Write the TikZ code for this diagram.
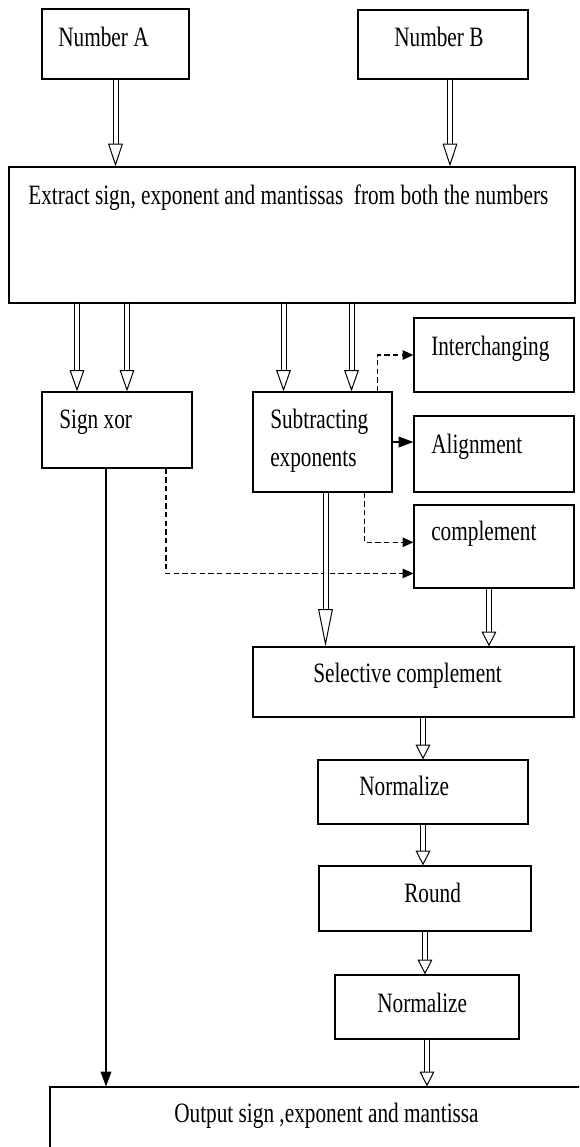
\documentclass[tikz,border=0pt]{standalone}
\usepackage{fontspec}
\setmainfont{Liberation Serif}[FakeStretch=0.76]
\usetikzlibrary{arrows.meta, calc, fit}

\begin{document}
\begin{tikzpicture}[x=0.75pt, y=0.75pt, yscale=-1, xscale=1,
  blk/.style={draw, line width=0.9pt, inner sep=0pt, fit={#1}},
  txt/.style={anchor=base west, inner sep=0pt, font=\fontsize{21}{25}\selectfont},
  dbl/.style={double, line width=0.75pt, double distance=3pt, -{Triangle[open, width=11pt, length=#1]}},
  dbl/.default=11pt,
  dsh/.style={dash pattern=on 4pt off 2.5pt, line width=1pt, -{Triangle[length=8pt, width=7pt]}},
  arr/.style={line width=0.9pt, -{Triangle[length=11pt, width=8pt]}}]
\clip (0, 0) rectangle (579, 1147);
%Boxes
\node [blk={(42, 9) (189, 79)}] (numA) {};
\node [blk={(358, 10) (528, 79)}] (numB) {};
\node [blk={(9, 167) (575, 303)}] (ext) {};
\node [blk={(42, 392) (192, 468)}] (sxor) {};
\node [blk={(253, 392) (392, 492)}] (sub) {};
\node [blk={(414, 318) (574, 392)}] (inter) {};
\node [blk={(414, 416) (574, 492)}] (align) {};
\node [blk={(414, 505) (574, 588)}] (comp) {};
\node [blk={(253, 647) (574, 717)}] (sel) {};
\node [blk={(318, 760) (528, 824)}] (normA) {};
\node [blk={(319, 866) (531, 931)}] (round) {};
\node [blk={(335, 975) (519, 1039)}] (normB) {};
\node [blk={(50, 1087) (600, 1180)}] (out) {};
%Text
\node [txt] (tA) at (58, 46) {Number A};
\node [txt] (tB) at (394, 46) {Number B};
\node [txt] (text) at (28, 204) {Extract sign, exponent and mantissas\ \ from both the numbers};
\node [txt] (tsxor) at (59, 428) {Sign xor};
\node [txt] (tsubA) at (270, 428) {Subtracting};
\node [txt] (tsubB) at (270, 466) {exponents};
\node [txt] (tinter) at (431, 355) {Interchanging};
\node [txt] (talign) at (431, 453) {Alignment};
\node [txt] (tcomp) at (431, 540) {complement};
\node [txt] (tsel) at (313, 682) {Selective complement};
\node [txt] (tnormA) at (359, 795) {Normalize};
\node [txt] (tround) at (404, 902) {Round};
\node [txt] (tnormB) at (377, 1012) {Normalize};
\node [txt] (tout) at (174, 1122) {Output sign ,exponent and mantissa};
%Arrows
\draw [dbl=17pt] (numA.south) -- (numA.south |- ext.north);
\draw [dbl=17pt] ($(numB.south)+(7, 0)$) coordinate (b1) -- (b1 |- ext.north);
\coordinate (e1) at ($(sxor.north)+(-40, 0)$);
\coordinate (e2) at ($(sxor.north)+(10, 0)$);
\coordinate (e3) at ($(sub.north)+(-39, 0)$);
\coordinate (e4) at ($(sub.north)+(29, 0)$);
\draw [dbl=16pt] (e1 |- ext.south) -- (e1);
\draw [dbl=16pt] (e2 |- ext.south) -- (e2);
\draw [dbl=16pt] (e3 |- ext.south) -- (e3);
\draw [dbl=16pt] (e4 |- ext.south) -- (e4);
\draw [dsh] ($(sub.north)+(55, 0)$) |- (inter.west);
\draw [arr] (sub.east) -- (sub.east -| align.west);
\draw [dsh] ($(sub.south)+(42, 0)$) |- ($(comp.north west)!0.45!(comp.south west)$);
\draw [dsh] ($(sxor.south)+(49, 0)$) |- ($(comp.north west)!0.82!(comp.south west)$);
\draw [dbl=28pt] ($(sub.south)+(3, 0)$) coordinate (s2) -- (s2 |- sel.north);
\draw [dbl] ($(comp.south)+(-5, 0)$) coordinate (c1) -- (c1 |- sel.north);
\draw [dbl] (sel.south -| normA.north) -- (normA.north);
\draw [dbl] (normA.south) -- (normA.south |- round.north);
\draw [dbl] (round.south) -- (round.south |- normB.north);
\draw [dbl] (normB.south) -- (normB.south |- out.north);
\draw [arr] ($(sxor.south)+(-11, 0)$) coordinate (s1) -- (s1 |- out.north);
\end{tikzpicture}
\end{document}
